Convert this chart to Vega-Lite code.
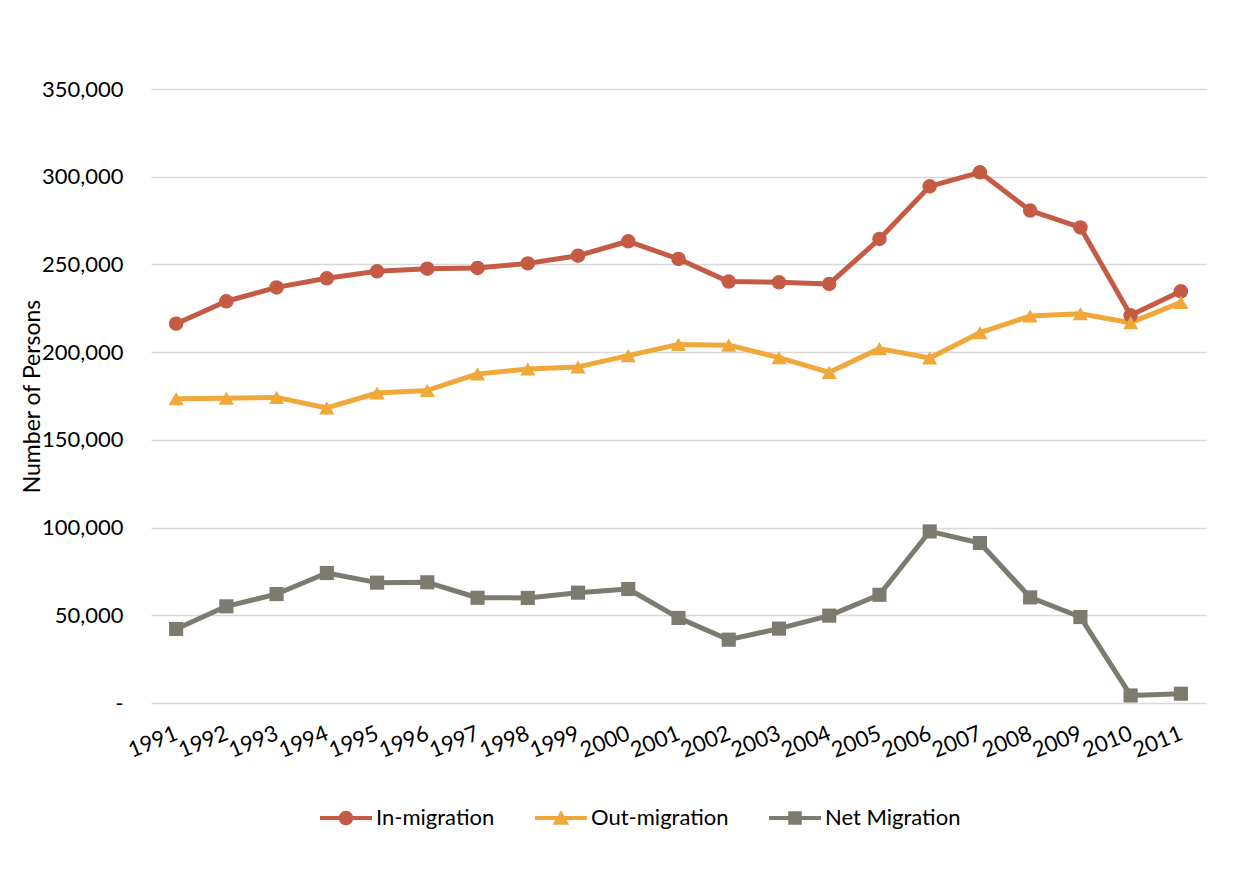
{
  "$schema": "https://vega.github.io/schema/vega-lite/v6.json",
  "width": 1055,
  "height": 614,
  "autosize": {"type": "none"},
  "padding": {"left": 151, "top": 89, "right": 42, "bottom": 191},
  "background": "white",
  "config": {
    "font": "Lato",
    "view": {"stroke": null},
    "axis": {"labelFont": "Lato", "titleFont": "Lato", "labelColor": "#000000", "titleColor": "#000000"}
  },
  "data": {
    "values": [
      {"year": "1991", "series": "In-migration", "value": 216200},
      {"year": "1992", "series": "In-migration", "value": 229000},
      {"year": "1993", "series": "In-migration", "value": 236900},
      {"year": "1994", "series": "In-migration", "value": 242100},
      {"year": "1995", "series": "In-migration", "value": 246100},
      {"year": "1996", "series": "In-migration", "value": 247600},
      {"year": "1997", "series": "In-migration", "value": 248000},
      {"year": "1998", "series": "In-migration", "value": 250600},
      {"year": "1999", "series": "In-migration", "value": 255000},
      {"year": "2000", "series": "In-migration", "value": 263200},
      {"year": "2001", "series": "In-migration", "value": 253100},
      {"year": "2002", "series": "In-migration", "value": 240200},
      {"year": "2003", "series": "In-migration", "value": 239800},
      {"year": "2004", "series": "In-migration", "value": 238900},
      {"year": "2005", "series": "In-migration", "value": 264500},
      {"year": "2006", "series": "In-migration", "value": 294500},
      {"year": "2007", "series": "In-migration", "value": 302500},
      {"year": "2008", "series": "In-migration", "value": 280700},
      {"year": "2009", "series": "In-migration", "value": 271100},
      {"year": "2010", "series": "In-migration", "value": 221000},
      {"year": "2011", "series": "In-migration", "value": 234700},
      {"year": "1991", "series": "Out-migration", "value": 173500},
      {"year": "1992", "series": "Out-migration", "value": 173700},
      {"year": "1993", "series": "Out-migration", "value": 174200},
      {"year": "1994", "series": "Out-migration", "value": 168200},
      {"year": "1995", "series": "Out-migration", "value": 176700},
      {"year": "1996", "series": "Out-migration", "value": 178200},
      {"year": "1997", "series": "Out-migration", "value": 187600},
      {"year": "1998", "series": "Out-migration", "value": 190400},
      {"year": "1999", "series": "Out-migration", "value": 191600},
      {"year": "2000", "series": "Out-migration", "value": 198000},
      {"year": "2001", "series": "Out-migration", "value": 204400},
      {"year": "2002", "series": "Out-migration", "value": 204000},
      {"year": "2003", "series": "Out-migration", "value": 196900},
      {"year": "2004", "series": "Out-migration", "value": 188500},
      {"year": "2005", "series": "Out-migration", "value": 202000},
      {"year": "2006", "series": "Out-migration", "value": 196700},
      {"year": "2007", "series": "Out-migration", "value": 211100},
      {"year": "2008", "series": "Out-migration", "value": 220600},
      {"year": "2009", "series": "Out-migration", "value": 221900},
      {"year": "2010", "series": "Out-migration", "value": 216800},
      {"year": "2011", "series": "Out-migration", "value": 228400},
      {"year": "1991", "series": "Net Migration", "value": 42200},
      {"year": "1992", "series": "Net Migration", "value": 55100},
      {"year": "1993", "series": "Net Migration", "value": 62100},
      {"year": "1994", "series": "Net Migration", "value": 74100},
      {"year": "1995", "series": "Net Migration", "value": 68600},
      {"year": "1996", "series": "Net Migration", "value": 68800},
      {"year": "1997", "series": "Net Migration", "value": 60000},
      {"year": "1998", "series": "Net Migration", "value": 59900},
      {"year": "1999", "series": "Net Migration", "value": 62900},
      {"year": "2000", "series": "Net Migration", "value": 65000},
      {"year": "2001", "series": "Net Migration", "value": 48500},
      {"year": "2002", "series": "Net Migration", "value": 36100},
      {"year": "2003", "series": "Net Migration", "value": 42400},
      {"year": "2004", "series": "Net Migration", "value": 49800},
      {"year": "2005", "series": "Net Migration", "value": 61700},
      {"year": "2006", "series": "Net Migration", "value": 97800},
      {"year": "2007", "series": "Net Migration", "value": 91200},
      {"year": "2008", "series": "Net Migration", "value": 60200},
      {"year": "2009", "series": "Net Migration", "value": 49000},
      {"year": "2010", "series": "Net Migration", "value": 4300},
      {"year": "2011", "series": "Net Migration", "value": 5300}
    ]
  },
  "encoding": {
    "x": {
      "field": "year",
      "type": "ordinal",
      "scale": {"type": "point", "padding": 0.5},
      "axis": {
        "title": null,
        "domain": false,
        "ticks": false,
        "grid": false,
        "labelAngle": -22,
        "labelAlign": "right",
        "labelBaseline": "middle",
        "labelPadding": 29,
        "labelFontSize": 22
      }
    },
    "y": {
      "field": "value",
      "type": "quantitative",
      "scale": {"domain": [0, 350000], "nice": false},
      "axis": {
        "title": "Number of Persons",
        "titleFontSize": 23,
        "titleFontWeight": "normal",
        "titlePadding": -3,
        "values": [0, 50000, 100000, 150000, 200000, 250000, 300000, 350000],
        "labelExpr": "datum.value == 0 ? '-\u00a0\u00a0' : format(datum.value, ',')",
        "labelFontSize": 22,
        "labelPadding": 28,
        "domain": false,
        "ticks": false,
        "grid": true,
        "gridColor": "#D9D9D9",
        "gridWidth": 1.5
      }
    },
    "color": {
      "field": "series",
      "type": "nominal",
      "scale": {
        "domain": ["In-migration", "Out-migration", "Net Migration"],
        "range": ["#C55B45", "#F0A83A", "#7D7A70"]
      },
      "legend": {
        "title": null,
        "orient": "none",
        "direction": "horizontal",
        "legendX": 169,
        "legendY": 703,
        "symbolSize": 2704,
        "labelFont": "Lato",
        "labelFontSize": 22,
        "labelColor": "#000000",
        "labelOffset": 4,
        "columnPadding": 40,
        "encode": {
          "symbols": {
            "update": {
              "shape": {"signal": "datum.value === 'In-migration' ? 'M-1,-0.08H1V0.08H-1Z M0.28,0A0.28,0.28 0 1,1 -0.28,0A0.28,0.28 0 1,1 0.28,0Z' : (datum.value === 'Out-migration' ? 'M-1,-0.08H1V0.08H-1Z M0,-0.3L0.32,0.26L-0.32,0.26Z' : 'M-1,-0.08H1V0.08H-1Z M-0.26,-0.26H0.26V0.26H-0.26Z')"},
              "fill": {"scale": "color", "field": "value"},
              "stroke": {"value": "transparent"},
              "strokeWidth": {"value": 0},
              "opacity": {"value": 1},
              "fillOpacity": {"value": 1}
            }
          }
        }
      }
    }
  },
  "layer": [
    {
      "mark": {"type": "line", "strokeWidth": 5, "strokeJoin": "round", "strokeCap": "round"}
    },
    {
      "transform": [{"filter": "datum.series === 'In-migration'"}],
      "mark": {"type": "point", "shape": "circle", "filled": true, "opacity": 1, "size": 210}
    },
    {
      "transform": [{"filter": "datum.series === 'Out-migration'"}],
      "mark": {"type": "point", "shape": "triangle-up", "filled": true, "opacity": 1, "size": 230}
    },
    {
      "transform": [{"filter": "datum.series === 'Net Migration'"}],
      "mark": {"type": "point", "shape": "square", "filled": true, "opacity": 1, "size": 200}
    }
  ]
}
